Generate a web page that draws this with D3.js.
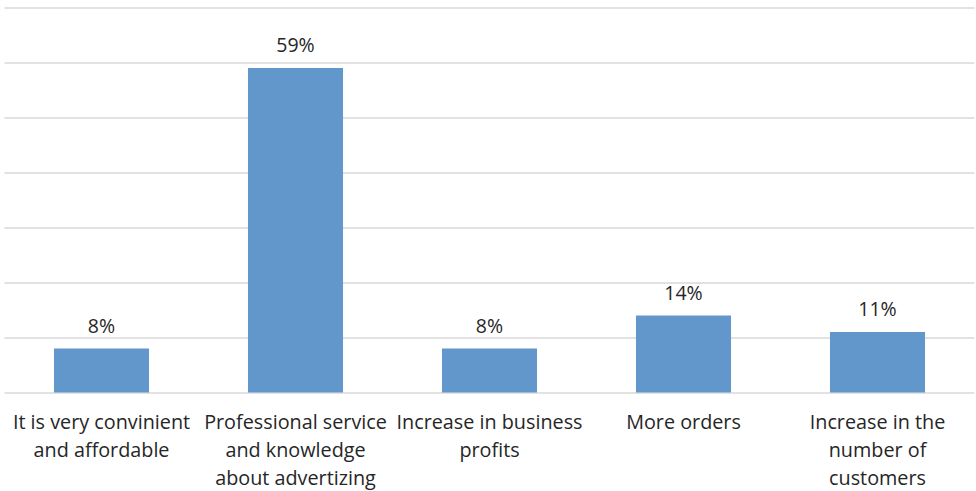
<!DOCTYPE html>
<html>
<head>
<meta charset="utf-8">
<script src="https://cdn.jsdelivr.net/npm/d3@7"></script>
<style>
  html, body { margin: 0; padding: 0; background: #fff; }
  svg { display: block; }
  text { font-family: "Open Sans", "Liberation Sans", sans-serif; fill: #262626; }
</style>
</head>
<body>
<svg id="chart" width="976" height="491"></svg>
<script>
// Reasons given for choosing the service (share of respondents)
const categories = [
  ["It is very convinient", "and affordable"],
  ["Professional service", "and knowledge", "about advertizing"],
  ["Increase in business", "profits"],
  ["More orders"],
  ["Increase in the", "number of", "customers"]
];
const values = [8, 59, 8, 14, 11];
const yTicks = [0, 10, 20, 30, 40, 50, 60, 70];

const svg = d3.select("#chart");
const margin = { left: 4.5, right: 1.5, top: 7.5, bottom: 98.5 };
const W = 976, H = 491;

const x = d3.scaleBand()
  .domain(d3.range(values.length))
  .range([margin.left, W - margin.right])
  .paddingInner(0.51)
  .paddingOuter(0.255);

const y = d3.scaleLinear()
  .domain([0, 70])
  .range([H - margin.bottom, margin.top]);

// horizontal gridlines
const yAxis = d3.axisLeft(y).tickValues(yTicks).tickSize(-(W - margin.left - margin.right)).tickFormat("");
const gy = svg.append("g").attr("transform", `translate(${margin.left},0)`).call(yAxis);
gy.select(".domain").remove();
gy.selectAll(".tick line").attr("stroke", "#d9d9d9").attr("stroke-width", 1.5);

// bars
svg.append("g").selectAll("rect")
  .data(values)
  .join("rect")
  .attr("x", (d, i) => x(i))
  .attr("width", x.bandwidth())
  .attr("y", d => y(d))
  .attr("height", d => y(0) - y(d))
  .attr("fill", "#6297cb");

// value labels
svg.append("g").selectAll("text")
  .data(values)
  .join("text")
  .attr("x", (d, i) => x(i) + x.bandwidth() / 2)
  .attr("y", d => y(d) - 16)
  .attr("text-anchor", "middle")
  .attr("font-size", 19.5)
  .text(d => d + "%");

// category labels
const xAxis = d3.axisBottom(x).tickSize(0).tickFormat("");
const gx = svg.append("g").attr("transform", `translate(0,${y(0)})`).call(xAxis);
gx.select(".domain").remove();
gx.selectAll(".tick").each(function(d) {
  const t = d3.select(this).append("text")
    .attr("text-anchor", "middle")
    .attr("font-size", 19.8);
  categories[d].forEach((line, j) => {
    t.append("tspan").attr("x", 0).attr("y", 36 + j * 28).text(line);
  });
});
</script>
</body>
</html>
